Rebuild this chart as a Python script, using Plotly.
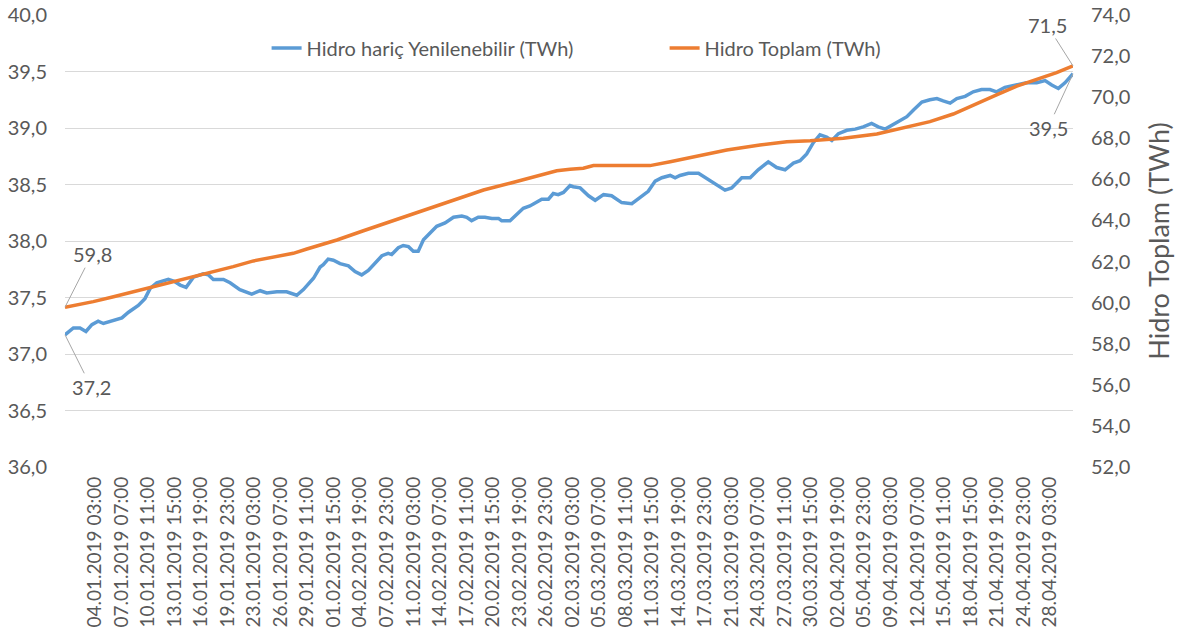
import plotly.graph_objects as go
from datetime import datetime

# ---------------- data ----------------
blue_name = "Hidro hariç Yenilenebilir (TWh)"
orange_name = "Hidro Toplam (TWh)"

blue_time = [
    "2018-12-31 13:00", "2019-01-01 13:00", "2019-01-02 08:00", "2019-01-03 01:00", "2019-01-03 18:00",
    "2019-01-04 12:00", "2019-01-05 03:00", "2019-01-06 07:00", "2019-01-07 08:00", "2019-01-08 03:00",
    "2019-01-09 07:00", "2019-01-10 02:00", "2019-01-10 17:00", "2019-01-11 12:00", "2019-01-12 21:00",
    "2019-01-13 16:00", "2019-01-14 07:00", "2019-01-15 00:00", "2019-01-15 21:00", "2019-01-17 01:00",
    "2019-01-17 16:00", "2019-01-18 06:00", "2019-01-19 11:00", "2019-01-20 06:00", "2019-01-21 10:00",
    "2019-01-22 20:00", "2019-01-23 20:00", "2019-01-24 15:00", "2019-01-25 20:00", "2019-01-27 00:00",
    "2019-01-28 05:00", "2019-01-29 00:00", "2019-01-30 05:00", "2019-01-31 00:00", "2019-01-31 09:00",
    "2019-01-31 23:00", "2019-02-01 14:00", "2019-02-02 09:00", "2019-02-03 09:00", "2019-02-04 04:00",
    "2019-02-04 23:00", "2019-02-05 18:00", "2019-02-06 13:00", "2019-02-07 09:00", "2019-02-08 03:00",
    "2019-02-08 13:00", "2019-02-09 08:00", "2019-02-09 22:00", "2019-02-10 13:00", "2019-02-11 03:00",
    "2019-02-11 17:00", "2019-02-12 08:00", "2019-02-13 03:00", "2019-02-13 22:00", "2019-02-14 22:00",
    "2019-02-15 22:00", "2019-02-16 22:00", "2019-02-17 12:00", "2019-02-18 02:00", "2019-02-18 21:00",
    "2019-02-19 16:00", "2019-02-20 12:00", "2019-02-21 07:00", "2019-02-21 16:00", "2019-02-22 16:00",
    "2019-02-23 06:00", "2019-02-24 06:00", "2019-02-25 01:00", "2019-02-25 21:00", "2019-02-26 11:00",
    "2019-02-27 06:00", "2019-02-27 20:00", "2019-02-28 10:00", "2019-03-01 01:00", "2019-03-01 20:00",
    "2019-03-02 05:00", "2019-03-03 01:00", "2019-03-04 01:00", "2019-03-04 20:00", "2019-03-05 20:00",
    "2019-03-06 19:00", "2019-03-08 00:00", "2019-03-09 05:00", "2019-03-10 09:00", "2019-03-11 04:00",
    "2019-03-12 00:00", "2019-03-12 19:00", "2019-03-13 19:00", "2019-03-14 09:00", "2019-03-14 23:00",
    "2019-03-15 23:00", "2019-03-17 04:00", "2019-03-18 04:00", "2019-03-19 08:00", "2019-03-20 08:00",
    "2019-03-21 03:00", "2019-03-22 08:00", "2019-03-23 08:00", "2019-03-24 07:00", "2019-03-25 12:00",
    "2019-03-26 12:00", "2019-03-27 12:00", "2019-03-28 12:00", "2019-03-29 07:00", "2019-03-30 02:00",
    "2019-03-30 21:00", "2019-03-31 16:00", "2019-04-01 11:00", "2019-04-02 02:00", "2019-04-02 21:00",
    "2019-04-03 21:00", "2019-04-04 21:00", "2019-04-05 20:00", "2019-04-06 20:00", "2019-04-07 15:00",
    "2019-04-08 11:00", "2019-04-09 10:00", "2019-04-10 06:00", "2019-04-11 01:00", "2019-04-11 20:00",
    "2019-04-12 20:00", "2019-04-13 19:00", "2019-04-14 15:00", "2019-04-15 09:00", "2019-04-16 05:00",
    "2019-04-17 00:00", "2019-04-18 00:00", "2019-04-18 23:00", "2019-04-19 23:00", "2019-04-20 23:00",
    "2019-04-21 18:00", "2019-04-22 18:00", "2019-04-23 23:00", "2019-04-25 08:00", "2019-04-26 13:00",
    "2019-04-27 13:00", "2019-04-28 08:00", "2019-04-29 03:00", "2019-04-29 22:00", "2019-04-30 21:00",
]
blue_val = [
    37.17, 37.23, 37.23, 37.20, 37.26,
    37.29, 37.27, 37.30, 37.32, 37.37,
    37.43, 37.49, 37.58, 37.63, 37.66,
    37.64, 37.61, 37.59, 37.68, 37.71,
    37.70, 37.66, 37.66, 37.63, 37.57,
    37.53, 37.56, 37.54, 37.55, 37.55,
    37.52, 37.57, 37.67, 37.77, 37.79,
    37.84, 37.83, 37.80, 37.78, 37.73,
    37.70, 37.74, 37.80, 37.87, 37.89,
    37.88, 37.94, 37.96, 37.95, 37.91,
    37.91, 38.01, 38.07, 38.13, 38.16,
    38.21, 38.22, 38.21, 38.18, 38.21,
    38.21, 38.20, 38.20, 38.18, 38.18,
    38.22, 38.29, 38.31, 38.35, 38.37,
    38.37, 38.42, 38.41, 38.43, 38.49,
    38.48, 38.47, 38.40, 38.36, 38.41,
    38.40, 38.34, 38.33, 38.40, 38.44,
    38.53, 38.56, 38.58, 38.56, 38.58,
    38.60, 38.60, 38.55, 38.50, 38.45,
    38.47, 38.56, 38.56, 38.63, 38.70,
    38.65, 38.63, 38.69, 38.71, 38.77,
    38.87, 38.94, 38.92, 38.89, 38.95,
    38.98, 38.99, 39.01, 39.04, 39.01,
    38.99, 39.03, 39.07, 39.10, 39.16,
    39.23, 39.25, 39.26, 39.24, 39.22,
    39.26, 39.28, 39.32, 39.34, 39.34,
    39.32, 39.36, 39.38, 39.40, 39.40,
    39.42, 39.38, 39.35, 39.40, 39.48,
]

orange_time = [
    "2018-12-31 13:00", "2019-01-03 22:00", "2019-01-06 08:00", "2019-01-08 17:00", "2019-01-11 02:00",
    "2019-01-13 11:00", "2019-01-15 21:00", "2019-01-18 06:00", "2019-01-20 15:00", "2019-01-23 01:00",
    "2019-01-25 10:00", "2019-01-27 19:00", "2019-01-29 10:00", "2019-01-31 00:00", "2019-02-02 00:00",
    "2019-02-05 04:00", "2019-02-08 08:00", "2019-02-11 13:00", "2019-02-14 17:00", "2019-02-17 21:00",
    "2019-02-19 12:00", "2019-02-22 16:00", "2019-02-25 21:00", "2019-02-28 06:00", "2019-03-01 20:00",
    "2019-03-03 10:00", "2019-03-04 15:00", "2019-03-11 09:00", "2019-03-13 19:00", "2019-03-16 13:00",
    "2019-03-20 13:00", "2019-03-24 12:00", "2019-03-27 17:00", "2019-03-30 12:00", "2019-04-03 11:00",
    "2019-04-07 11:00", "2019-04-10 15:00", "2019-04-13 19:00", "2019-04-16 14:00", "2019-04-19 09:00",
    "2019-04-21 18:00", "2019-04-24 04:00", "2019-04-26 13:00", "2019-04-28 22:00", "2019-04-30 21:00",
]
orange_val = [
    59.78, 60.05, 60.29, 60.53, 60.78,
    61.02, 61.26, 61.51, 61.75, 62.03,
    62.21, 62.40, 62.61, 62.81, 63.05,
    63.50, 63.94, 64.40, 64.84, 65.24,
    65.48, 65.81, 66.16, 66.42, 66.49,
    66.54, 66.67, 66.67, 66.86, 67.10,
    67.43, 67.67, 67.83, 67.88, 68.00,
    68.21, 68.49, 68.81, 69.18, 69.70,
    70.11, 70.54, 70.87, 71.19, 71.52,
]

tick_labels = [
    "04.01.2019 03:00", "07.01.2019 07:00", "10.01.2019 11:00", "13.01.2019 15:00", "16.01.2019 19:00",
    "19.01.2019 23:00", "23.01.2019 03:00", "26.01.2019 07:00", "29.01.2019 11:00", "01.02.2019 15:00",
    "04.02.2019 19:00", "07.02.2019 23:00", "11.02.2019 03:00", "14.02.2019 07:00", "17.02.2019 11:00",
    "20.02.2019 15:00", "23.02.2019 19:00", "26.02.2019 23:00", "02.03.2019 03:00", "05.03.2019 07:00",
    "08.03.2019 11:00", "11.03.2019 15:00", "14.03.2019 19:00", "17.03.2019 23:00", "21.03.2019 03:00",
    "24.03.2019 07:00", "27.03.2019 11:00", "30.03.2019 15:00", "02.04.2019 19:00", "05.04.2019 23:00",
    "09.04.2019 03:00", "12.04.2019 07:00", "15.04.2019 11:00", "18.04.2019 15:00", "21.04.2019 19:00",
    "24.04.2019 23:00", "28.04.2019 03:00",
]

# ---------------- styling ----------------
BLUE = "#5B9BD5"
ORANGE = "#ED7D31"
TXT = "#595959"
GRID = "#D9D9D9"
FONT = "Lato"

tick_vals = [datetime.strptime(s, "%d.%m.%Y %H:%M") for s in tick_labels]


def fmt(v):
    return f"{v:.1f}".replace(".", ",")


fig = go.Figure()
fig.add_trace(go.Scatter(x=blue_time, y=blue_val, mode="lines", name=blue_name,
                         line=dict(color=BLUE, width=3.5), yaxis="y"))
fig.add_trace(go.Scatter(x=orange_time, y=orange_val, mode="lines", name=orange_name,
                         line=dict(color=ORANGE, width=3.5), yaxis="y2"))

ann = []
arrow = dict(showarrow=True, arrowhead=0, arrowwidth=1, arrowcolor="#A6A6A6",
             font=dict(family=FONT, size=20, color=TXT))
ann.append(dict(x=orange_time[0], y=orange_val[0], xref="x", yref="y2", text=fmt(orange_val[0]),
                ax=27, ay=-53, **arrow))
ann.append(dict(x=blue_time[0], y=blue_val[0], xref="x", yref="y", text=fmt(blue_val[0]),
                ax=26, ay=52, **arrow))
ann.append(dict(x=orange_time[-1], y=orange_val[-1], xref="x", yref="y2", text=fmt(orange_val[-1]),
                ax=-26, ay=-41, **arrow))
ann.append(dict(x=blue_time[-1], y=blue_val[-1], xref="x", yref="y", text=fmt(blue_val[-1]),
                ax=-25, ay=54, **arrow))

fig.update_layout(
    width=1184, height=639,
    margin=dict(l=65, r=111, t=15, b=172, autoexpand=False),
    paper_bgcolor="white", plot_bgcolor="white",
    separators=",.",
    font=dict(family=FONT, size=20, color=TXT),
    showlegend=True,
    hovermode=False,
    legend=dict(orientation="h", x=0.2, xanchor="left", y=0.927, yanchor="middle",
                font=dict(family=FONT, size=20, color=TXT), bgcolor="rgba(0,0,0,0)",
                entrywidth=353, entrywidthmode="pixels"),
    xaxis=dict(type="date", range=[blue_time[0], blue_time[-1]], tickmode="array",
               tickvals=tick_vals, ticktext=tick_labels, tickangle=-90, automargin=False,
               showgrid=False, zeroline=False, showline=False, ticks="", ticklabelstandoff=5,
               tickfont=dict(family=FONT, size=19, color=TXT)),
    yaxis=dict(range=[36, 40], dtick=0.5, tickformat=".1f", showgrid=True, gridcolor=GRID,
               gridwidth=1, zeroline=False, showline=False, ticks="", automargin=False,
               tickfont=dict(family=FONT, size=20, color=TXT), ticklabelstandoff=17),
    yaxis2=dict(range=[52, 74], dtick=2, tickformat=".1f", overlaying="y", side="right",
                showgrid=False, zeroline=False, showline=False, ticks="", automargin=False,
                tickfont=dict(family=FONT, size=20, color=TXT), ticklabelstandoff=17,
                title=dict(text=orange_name, font=dict(family=FONT, size=27, color=TXT), standoff=20)),
    annotations=ann,
)

fig.write_html("out.html", config={"displayModeBar": False},
               post_script="document.body.style.margin='0px';")
